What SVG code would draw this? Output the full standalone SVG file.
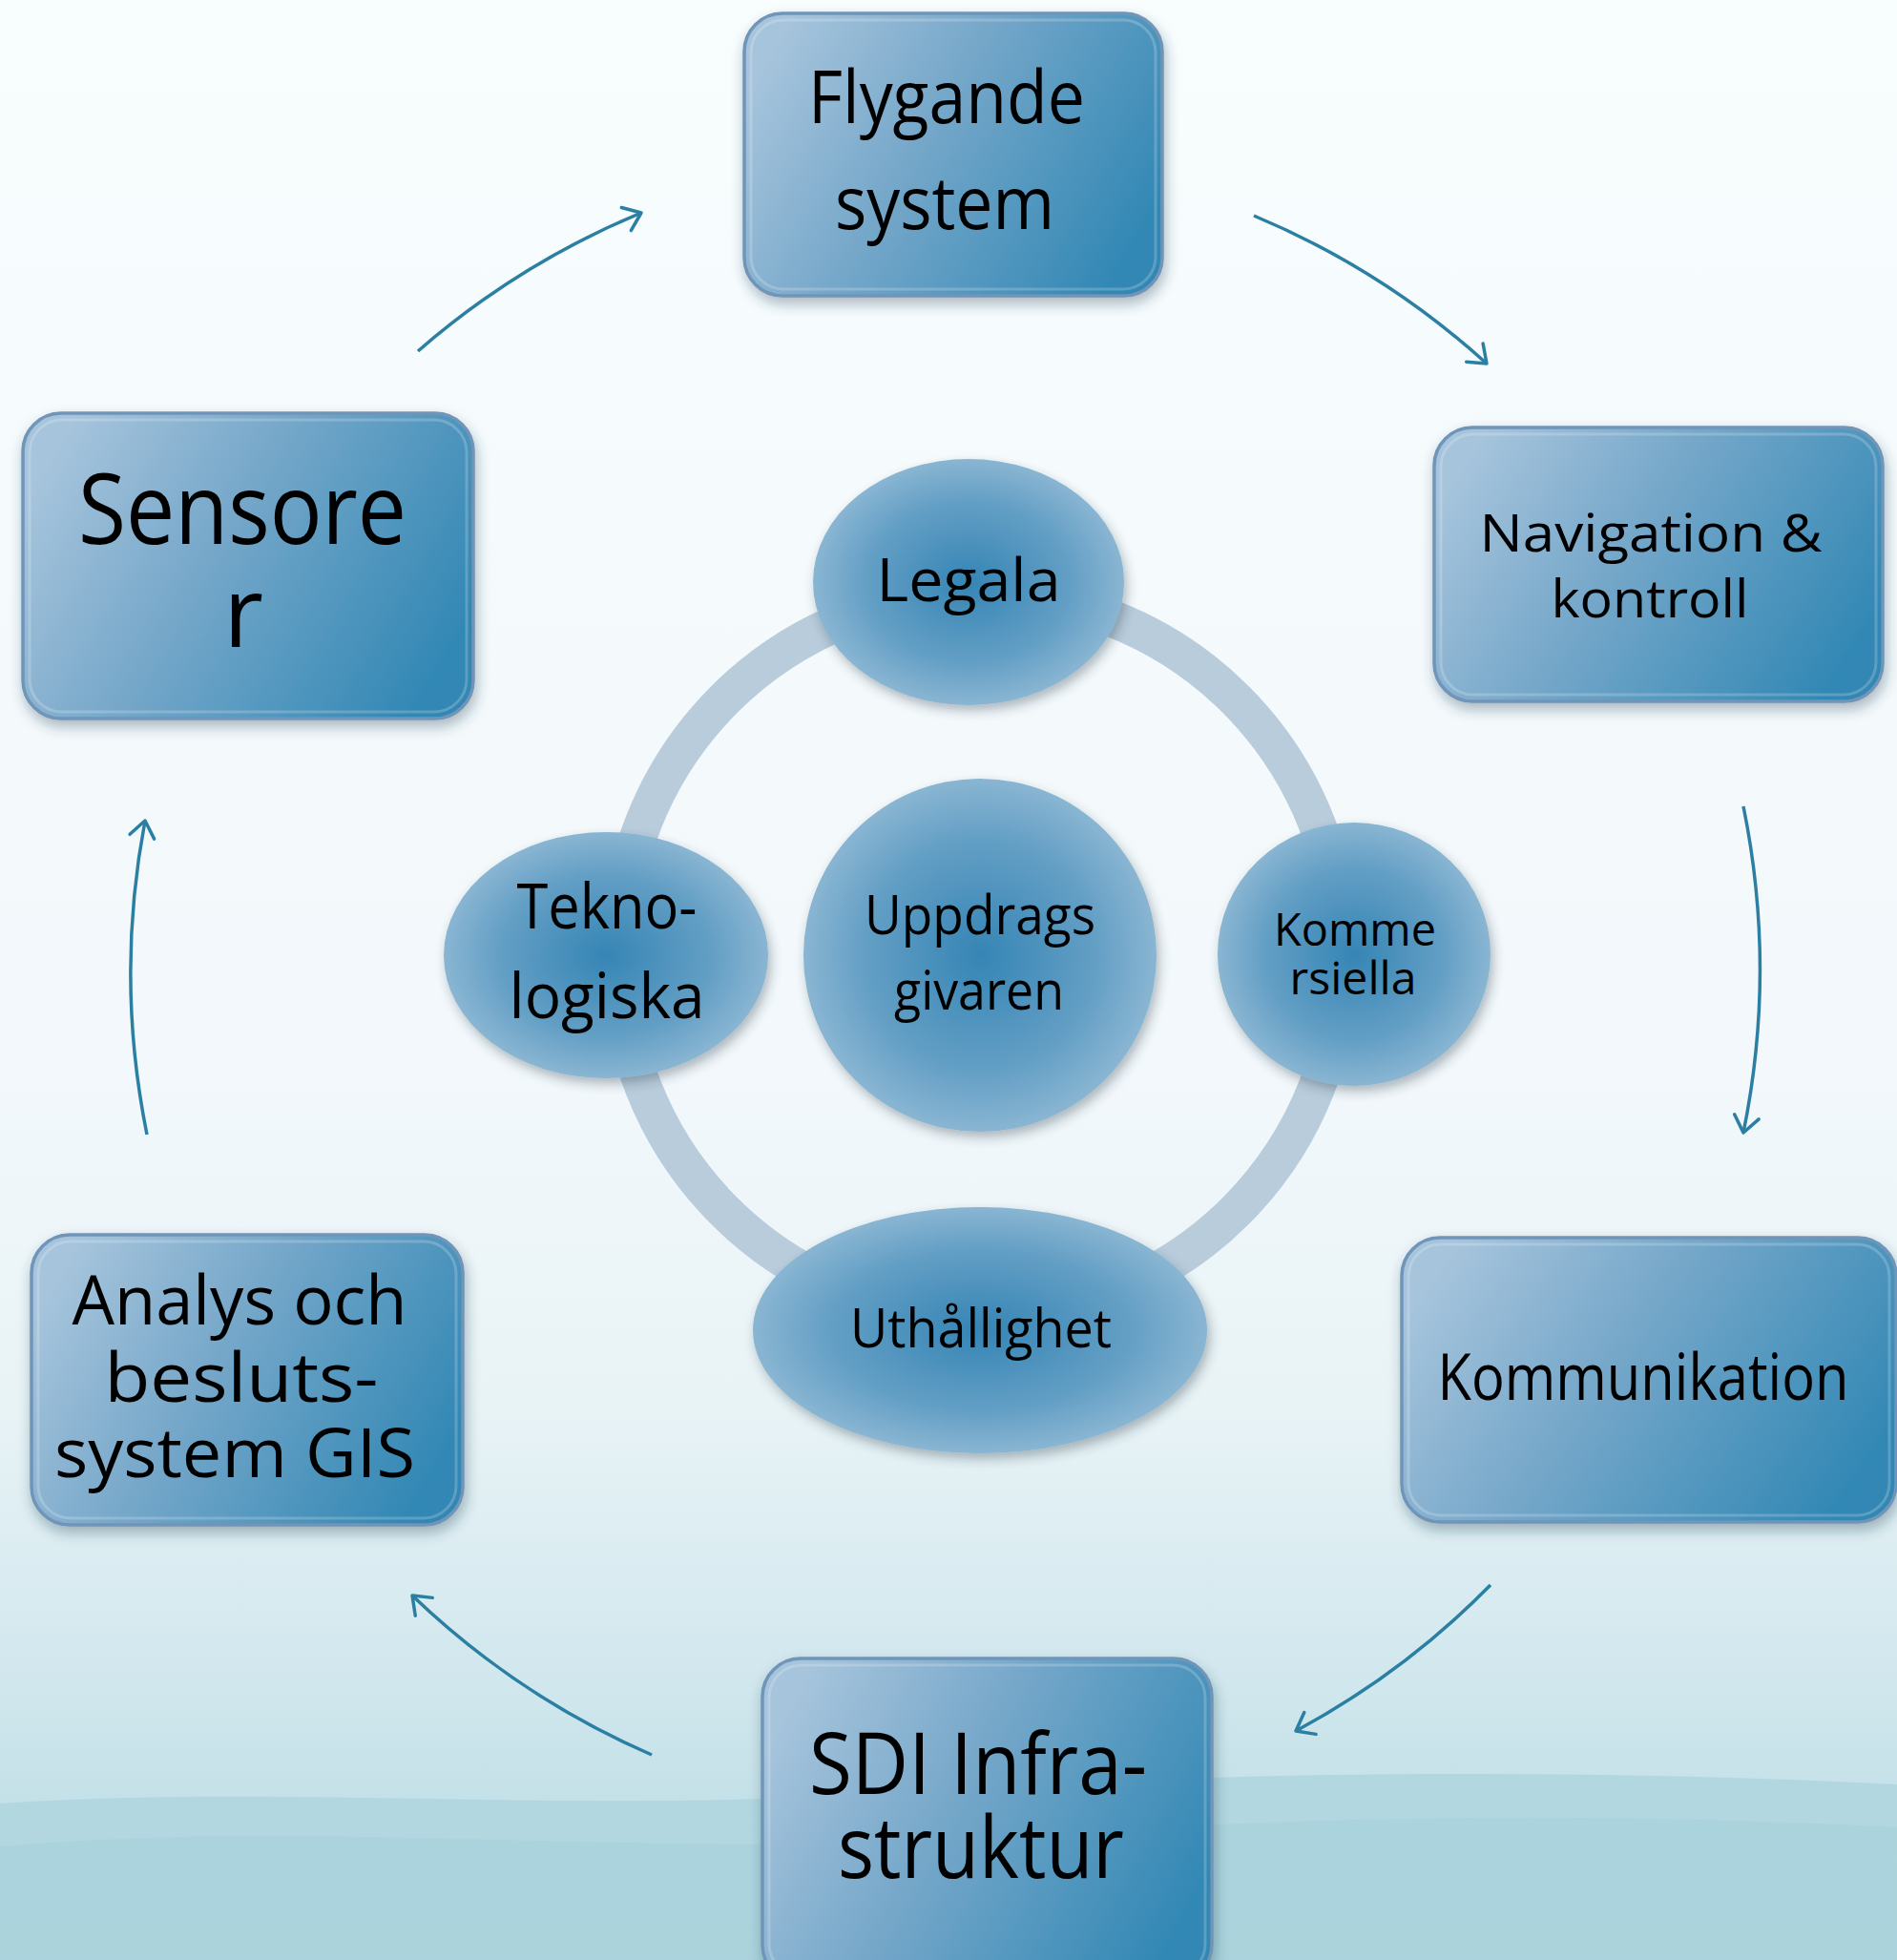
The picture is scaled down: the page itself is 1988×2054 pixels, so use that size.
<svg xmlns="http://www.w3.org/2000/svg" width="1988" height="2054" viewBox="0 0 1988 2054">
<defs>
<linearGradient id="bg" x1="0" y1="0" x2="0" y2="1">
<stop offset="0" stop-color="#f8fdfe"/>
<stop offset="0.55" stop-color="#f2f8fb"/>
<stop offset="0.72" stop-color="#e8f3f6"/>
<stop offset="0.85" stop-color="#d2e8ee"/>
<stop offset="1" stop-color="#b4d8e1"/>
</linearGradient>
<linearGradient id="wave" x1="0" y1="0" x2="0" y2="1">
<stop offset="0" stop-color="#9ccbd6" stop-opacity="0.9"/>
<stop offset="1" stop-color="#a9d3dd" stop-opacity="0.6"/>
</linearGradient>
<linearGradient id="boxg" x1="0" y1="0.3" x2="1" y2="0.7">
<stop offset="0" stop-color="#a6c4dc"/>
<stop offset="0.4" stop-color="#77a8ca"/>
<stop offset="1" stop-color="#3087b4"/>
</linearGradient>
<linearGradient id="rim" x1="0" y1="0" x2="0" y2="1">
<stop offset="0" stop-color="#a9d8f0" stop-opacity="0.3"/>
<stop offset="0.5" stop-color="#8fd3f2" stop-opacity="0.9"/>
<stop offset="1" stop-color="#6cc0e8" stop-opacity="0.6"/>
</linearGradient>
<radialGradient id="ellg" cx="0.5" cy="0.5" r="0.55">
<stop offset="0" stop-color="#3585b5"/>
<stop offset="0.6" stop-color="#649fc5"/>
<stop offset="1" stop-color="#94bcd6"/>
</radialGradient>
<filter id="sh" x="-10%" y="-10%" width="125%" height="130%">
<feDropShadow dx="2" dy="7" stdDeviation="7" flood-color="#1c3a50" flood-opacity="0.35"/>
</filter>
<filter id="esh" x="-10%" y="-10%" width="125%" height="130%">
<feDropShadow dx="3" dy="6" stdDeviation="6" flood-color="#2a3a48" flood-opacity="0.35"/>
</filter>
<marker id="ah" markerUnits="userSpaceOnUse" markerWidth="40" markerHeight="40" viewBox="-30 -20 40 40" refX="0" refY="0" orient="auto">
<path d="M -17 -13 L 0 0 L -17 13" fill="none" stroke="#2b7fa3" stroke-width="3.5" stroke-linecap="round" stroke-linejoin="round"/>
</marker>
<style>
.box{fill:url(#boxg);stroke:#6f95b8;stroke-width:3.5;filter:url(#sh)}
.bev{fill:none;stroke:#ffffff;stroke-opacity:0.2;stroke-width:3}
.hl{fill:none;stroke:url(#rim);stroke-width:6;stroke-linecap:round}
.ell{fill:url(#ellg);filter:url(#esh)}
.t{font-family:"Open Sans","Noto Sans","Liberation Sans",sans-serif;fill:#000;text-anchor:middle}
.c{fill:none;stroke:#2b7fa3;stroke-width:3.5;marker-end:url(#ah)}
</style>
</defs>

<rect x="0" y="0" width="1988" height="2054" fill="url(#bg)"/>
<path d="M0 1890 C 300 1870, 600 1900, 900 1880 S 1600 1850, 1988 1870 L1988 2054 L0 2054 Z" fill="url(#wave)" opacity="0.55"/>
<path d="M0 1935 C 350 1905, 700 1950, 1050 1925 S 1700 1900, 1988 1915 L1988 2054 L0 2054 Z" fill="#a4cfd9" opacity="0.5"/>

<g id="ring">
<circle cx="1027" cy="1001" r="379" fill="none" stroke="#b8ccdc" stroke-width="39"/>
</g>

<g id="connectors">
<path class="c" d="M 438 368 A 855 855 0 0 1 672 223"/>
<path class="c" d="M 1314 226 A 855 855 0 0 1 1558 381"/>
<path class="c" d="M 1827 845 A 855 855 0 0 1 1827 1187"/>
<path class="c" d="M 1562 1661 A 855 855 0 0 1 1358 1814"/>
<path class="c" d="M 683 1839 A 855 855 0 0 1 432 1672"/>
<path class="c" d="M 154 1189 A 855 855 0 0 1 152 860"/>
</g>

<g id="flygande">
<rect class="box" x="780" y="14" width="438" height="296" rx="40"/>
<rect class="bev" x="787" y="21" width="424" height="282" rx="34"/>
<path class="hl" d="M 1214 60 L 1214 265"/>
<text class="t" font-size="76" x="992" y="129" textLength="290" lengthAdjust="spacingAndGlyphs">Flygande</text>
<text class="t" font-size="76" x="990" y="240" textLength="230" lengthAdjust="spacingAndGlyphs">system</text>
</g>

<g id="navigation">
<rect class="box" x="1503" y="448" width="470" height="287" rx="40"/>
<rect class="bev" x="1510" y="455" width="456" height="273" rx="34"/>
<path class="hl" d="M 1969 494 L 1969 690"/>
<text class="t" font-size="54" x="1730" y="578" textLength="359" lengthAdjust="spacingAndGlyphs">Navigation &amp;</text>
<text class="t" font-size="54" x="1729" y="647" textLength="207" lengthAdjust="spacingAndGlyphs">kontroll</text>
</g>

<g id="sensorer">
<rect class="box" x="24" y="433" width="472" height="320" rx="40"/>
<rect class="bev" x="31" y="440" width="458" height="306" rx="34"/>
<path class="hl" d="M 492 479 L 492 708"/>
<text class="t" font-size="102" x="254" y="570" textLength="344" lengthAdjust="spacingAndGlyphs">Sensore</text>
<text class="t" font-size="102" x="255" y="678">r</text>
</g>

<g id="analys">
<rect class="box" x="33" y="1294" width="452" height="304" rx="40"/>
<rect class="bev" x="40" y="1301" width="438" height="290" rx="34"/>
<path class="hl" d="M 481 1340 L 481 1553"/>
<text class="t" font-size="71" x="251" y="1388" textLength="351" lengthAdjust="spacingAndGlyphs">Analys och</text>
<text class="t" font-size="71" x="253" y="1469" textLength="287" lengthAdjust="spacingAndGlyphs">besluts-</text>
<text class="t" font-size="71" x="246" y="1548" textLength="378" lengthAdjust="spacingAndGlyphs">system GIS</text>
</g>

<g id="kommunikation">
<rect class="box" x="1469" y="1297" width="518" height="298" rx="40"/>
<rect class="bev" x="1476" y="1304" width="504" height="284" rx="34"/>
<text class="t" font-size="67" x="1722" y="1467" textLength="431" lengthAdjust="spacingAndGlyphs">Kommunikation</text>
</g>

<g id="sdi">
<rect class="box" x="799" y="1738" width="471" height="340" rx="40"/>
<rect class="bev" x="806" y="1745" width="457" height="326" rx="34"/>
<path class="hl" d="M 1266 1784 L 1266 2054"/>
<text class="t" font-size="89" x="1025" y="1880" textLength="354" lengthAdjust="spacingAndGlyphs">SDI Infra-</text>
<text class="t" font-size="89" x="1028" y="1968" textLength="300" lengthAdjust="spacingAndGlyphs">struktur</text>
</g>

<g id="legala">
<ellipse class="ell" cx="1015" cy="610" rx="163" ry="129"/>
<text class="t" font-size="63" x="1015" y="630" textLength="193" lengthAdjust="spacingAndGlyphs">Legala</text>
</g>

<g id="uppdragsgivaren">
<circle class="ell" cx="1027" cy="1001" r="185"/>
<text class="t" font-size="56" x="1027" y="979" textLength="242" lengthAdjust="spacingAndGlyphs">Uppdrags</text>
<text class="t" font-size="56" x="1026" y="1058" textLength="178" lengthAdjust="spacingAndGlyphs">givaren</text>
</g>

<g id="teknologiska">
<ellipse class="ell" cx="635" cy="1001" rx="170" ry="129"/>
<text class="t" font-size="65" x="636" y="973" textLength="189" lengthAdjust="spacingAndGlyphs">Tekno-</text>
<text class="t" font-size="65" x="636" y="1067" textLength="205" lengthAdjust="spacingAndGlyphs">logiska</text>
</g>

<g id="kommersiella">
<ellipse class="ell" cx="1419" cy="1000" rx="143" ry="138"/>
<text class="t" font-size="47" x="1420" y="991" textLength="170" lengthAdjust="spacingAndGlyphs">Komme</text>
<text class="t" font-size="47" x="1418" y="1042" textLength="133" lengthAdjust="spacingAndGlyphs">rsiella</text>
</g>

<g id="uthallighet">
<ellipse class="ell" cx="1027" cy="1394" rx="238" ry="129"/>
<text class="t" font-size="56" x="1028" y="1412" textLength="274" lengthAdjust="spacingAndGlyphs">Uthållighet</text>
</g>
</svg>
